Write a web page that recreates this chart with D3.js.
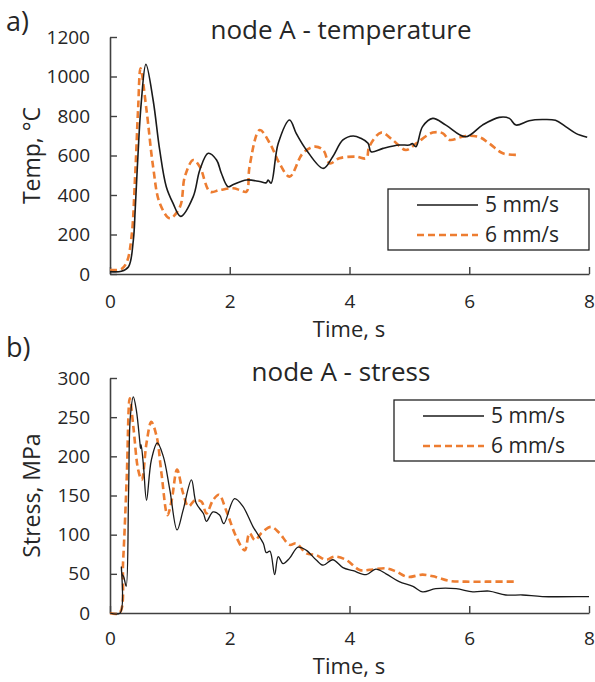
<!DOCTYPE html>
<html>
<head>
<meta charset="utf-8">
<script src="https://cdn.jsdelivr.net/npm/d3@7"></script>
<style>
  body { margin: 0; background: #fff; }
  svg text { font-family: "Open Sans", sans-serif; fill: #262626; }
</style>
</head>
<body>
<div id="chart"></div>
<script>
// time (s) and values
var tempTime5 = [0, 0.19, 0.31, 0.39, 0.42, 0.46, 0.52, 0.6, 0.72, 0.83, 0.94, 1.05, 1.18, 1.39, 1.5, 1.64, 1.78, 1.86, 1.97, 2.06, 2.28, 2.5, 2.61, 2.64, 2.69, 2.81, 3.0, 3.11, 3.28, 3.56, 3.72, 3.89, 4.06, 4.19, 4.31, 4.36, 4.56, 4.83, 5.0, 5.05, 5.11, 5.22, 5.39, 5.61, 5.94, 6.22, 6.5, 6.67, 6.78, 7.0, 7.22, 7.44, 7.61, 7.78, 7.97];
var temp5 = [12, 14, 37, 172, 320, 560, 860, 1062, 881, 628, 442, 360, 292, 392, 527, 611, 577, 510, 442, 453, 476, 468, 462, 476, 460, 662, 780, 712, 628, 535, 594, 679, 699, 687, 662, 619, 636, 653, 653, 660, 645, 746, 788, 754, 695, 754, 793, 788, 754, 776, 782, 778, 746, 712, 692];

var tempTime6 = [0, 0.19, 0.28, 0.36, 0.42, 0.47, 0.51, 0.61, 0.72, 0.83, 1.0, 1.17, 1.25, 1.39, 1.5, 1.67, 1.83, 2.06, 2.17, 2.28, 2.33, 2.5, 2.67, 2.83, 3.0, 3.22, 3.42, 3.56, 3.67, 3.83, 4.11, 4.28, 4.33, 4.53, 4.72, 4.94, 5.11, 5.39, 5.56, 5.67, 5.94, 6.17, 6.33, 6.56, 6.78];
var temp6 = [20, 25, 60, 190, 500, 840, 1041, 830, 543, 359, 282, 341, 493, 577, 543, 417, 425, 434, 425, 417, 543, 729, 662, 560, 493, 611, 645, 628, 560, 586, 594, 586, 645, 716, 679, 628, 660, 716, 712, 679, 699, 693, 662, 611, 603];

var stressTime5 = [0, 0.17, 0.19, 0.2, 0.23, 0.27, 0.31, 0.34, 0.39, 0.44, 0.5, 0.51, 0.52, 0.56, 0.61, 0.69, 0.79, 0.89, 1.0, 1.12, 1.22, 1.36, 1.44, 1.56, 1.61, 1.72, 1.83, 1.9, 2.08, 2.22, 2.39, 2.56, 2.61, 2.67, 2.75, 2.81, 2.89, 3.0, 3.14, 3.28, 3.44, 3.56, 3.72, 3.89, 4.06, 4.28, 4.44, 4.61, 4.83, 5.06, 5.22, 5.44, 5.78, 6.06, 6.33, 6.61, 6.89, 7.22, 7.94, 8.0];
var stress5 = [0, 0, 59, 50, 46, 34, 153, 251, 276, 259, 217, 210, 215, 187, 144, 195, 217, 200, 157, 106, 131, 170, 140, 127, 117, 129, 125, 114, 146, 136, 110, 89, 77, 79, 49, 72, 63, 70, 84, 80, 68, 61, 68, 58, 54, 49, 56, 50, 40, 34, 27, 31, 31, 27, 28, 23, 23, 21, 21, 21];

var stressTime6 = [0, 0.16, 0.22, 0.28, 0.33, 0.39, 0.47, 0.53, 0.61, 0.69, 0.78, 0.86, 0.96, 1.03, 1.12, 1.22, 1.31, 1.42, 1.53, 1.61, 1.72, 1.82, 1.94, 2.11, 2.25, 2.33, 2.42, 2.53, 2.69, 2.83, 3.0, 3.11, 3.28, 3.44, 3.61, 3.75, 3.94, 4.17, 4.33, 4.61, 4.78, 4.97, 5.22, 5.44, 5.67, 5.94, 6.33, 6.78];
var stress6 = [0, 0, 68, 174, 274, 238, 183, 170, 217, 244, 225, 178, 125, 144, 183, 153, 136, 144, 142, 127, 144, 151, 131, 97, 80, 102, 93, 102, 110, 102, 87, 89, 76, 74, 68, 72, 68, 55, 55, 57, 53, 46, 49, 46, 41, 40, 40, 40];

var xTicks = [0, 2, 4, 6, 8];
var tempTicks = [0, 200, 400, 600, 800, 1000, 1200];
var stressTicks = [0, 50, 100, 150, 200, 250, 300];
var seriesNames = ["5 mm/s", "6 mm/s"];

var W = 595, H = 682;
var svg = d3.select("#chart").append("svg")
  .attr("width", W)
  .attr("height", H);

var axisColor = "#404040";
var black = "#1a1a1a", orange = "#ED7D31";

function pack(ts, vs) {
  return ts.map(function(t, i) { return {t: t, v: vs[i]}; });
}

function drawPanel(opt) {
  var x = d3.scaleLinear().domain([0, 8]).range([110, 589]);
  var y = d3.scaleLinear().domain(opt.domain).range([opt.bottom, opt.top]);

  var g = svg.append("g");

  // x axis, ticks point inward
  var xa = g.append("g")
    .attr("transform", "translate(0," + opt.bottom + ")")
    .call(d3.axisBottom(x).tickValues(xTicks).tickSizeInner(-7).tickSizeOuter(0).tickPadding(opt.xPad));
  var ya = g.append("g")
    .attr("transform", "translate(110,0)")
    .call(d3.axisLeft(y).tickValues(opt.ticks).tickFormat(d3.format("d"))
      .tickSizeInner(-7).tickSizeOuter(0).tickPadding(20));
  [xa, ya].forEach(function(a) {
    a.select(".domain").attr("stroke", axisColor).attr("stroke-width", 1.6);
    a.selectAll(".tick line").attr("stroke", axisColor).attr("stroke-width", 1.4);
    a.selectAll(".tick text").style("font-size", "19px").attr("fill", "#262626");
  });

  var line = d3.line()
    .x(function(d) { return x(d.t); })
    .y(function(d) { return y(d.v); })
    .curve(d3.curveCatmullRom.alpha(0.5));

  g.append("path")
    .datum(pack(opt.t6, opt.v6))
    .attr("d", line)
    .attr("fill", "none")
    .attr("stroke", orange)
    .attr("stroke-width", 2.6)
    .attr("stroke-dasharray", "7,4");

  g.append("path")
    .datum(pack(opt.t5, opt.v5))
    .attr("d", line)
    .attr("fill", "none")
    .attr("stroke", black)
    .attr("stroke-width", opt.blackWidth);

  // titles and labels
  g.append("text")
    .attr("x", 341).attr("y", opt.titleY)
    .attr("text-anchor", "middle")
    .style("font-size", "26px")
    .text(opt.title);

  g.append("text")
    .attr("x", 6).attr("y", opt.tagY)
    .style("font-size", "27px")
    .text(opt.tag);

  g.append("text")
    .attr("transform", "translate(40," + ((opt.top + opt.bottom) / 2) + ") rotate(-90)")
    .attr("text-anchor", "middle")
    .style("font-size", "23px")
    .text(opt.yLabel);

  g.append("text")
    .attr("x", 349).attr("y", opt.bottom + opt.timeOff)
    .attr("text-anchor", "middle")
    .style("font-size", "22px")
    .text("Time, s");

  // legend
  var lg = g.append("g").attr("transform", "translate(" + opt.legX + "," + opt.legY + ")");
  lg.append("rect")
    .attr("width", opt.legW).attr("height", 61)
    .attr("fill", "#fff")
    .attr("stroke", "#222").attr("stroke-width", 1.3);
  seriesNames.forEach(function(name, i) {
    var yy = 16 + i * 30;
    lg.append("line")
      .attr("x1", 29).attr("x2", 90)
      .attr("y1", yy).attr("y2", yy)
      .attr("stroke", i === 0 ? black : orange)
      .attr("stroke-width", i === 0 ? 1.6 : 2.6)
      .attr("stroke-dasharray", i === 0 ? null : "7,4");
    lg.append("text")
      .attr("x", 97).attr("y", yy + 7)
      .style("font-size", "21px")
      .text(name);
  });
}

drawPanel({
  domain: [0, 1200], ticks: tempTicks, top: 37, bottom: 274,
  t5: tempTime5, v5: temp5, t6: tempTime6, v6: temp6, blackWidth: 1.6,
  title: "node A - temperature", titleY: 39, tag: "a)", tagY: 31,
  yLabel: "Temp, °C", legX: 388, legY: 189, legW: 201,
  xPad: 21, timeOff: 63
});

drawPanel({
  domain: [0, 300], ticks: stressTicks, top: 378, bottom: 613,
  t5: stressTime5, v5: stress5, t6: stressTime6, v6: stress6, blackWidth: 1.3,
  title: "node A - stress", titleY: 381, tag: "b)", tagY: 357,
  yLabel: "Stress, MPa", legX: 394, legY: 400, legW: 205,
  xPad: 19, timeOff: 61
});
</script>
</body>
</html>
